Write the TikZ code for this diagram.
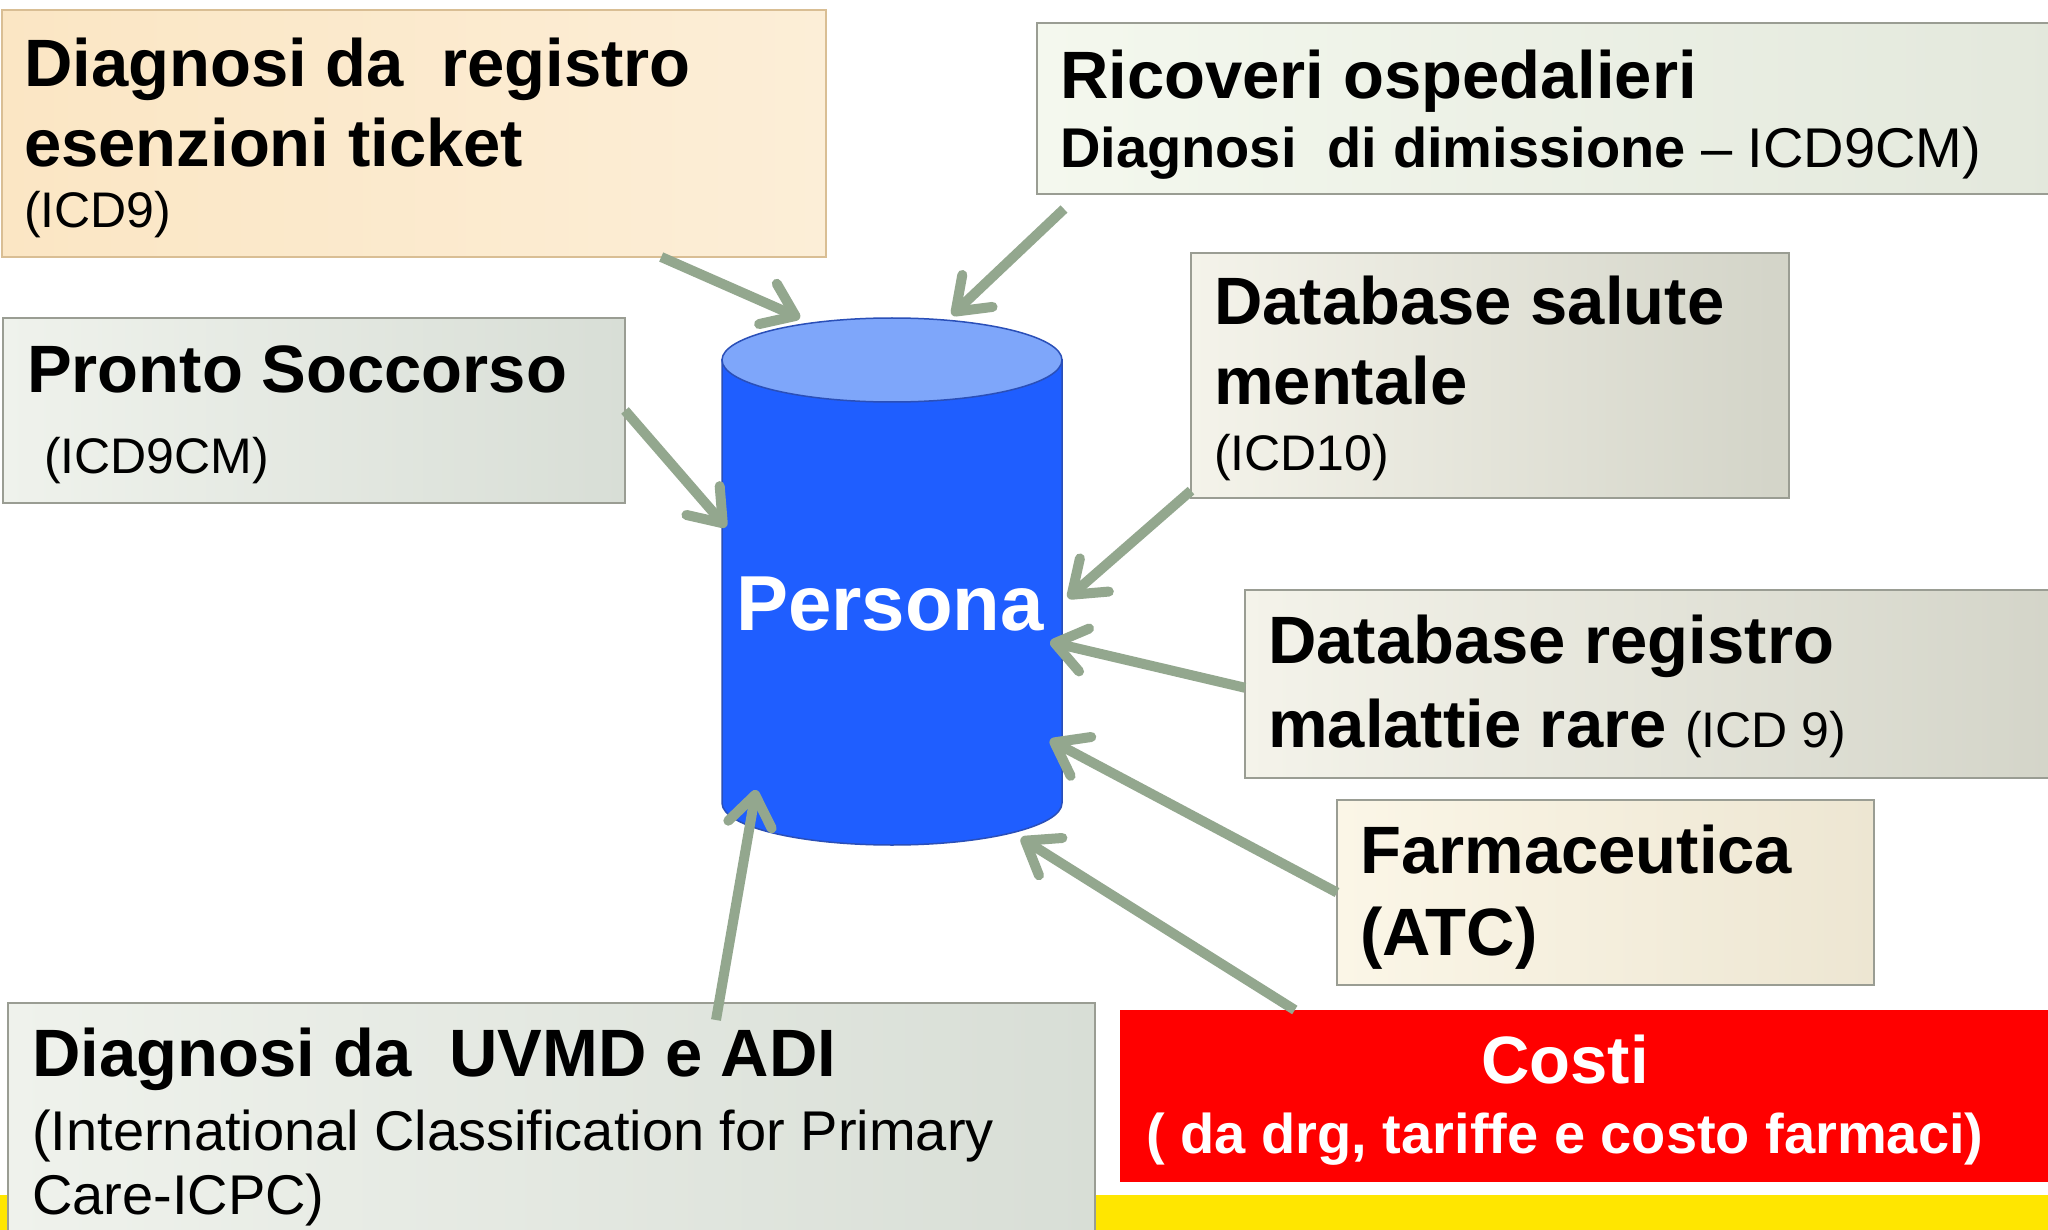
\documentclass[tikz,border=0pt]{standalone}
\usepackage{fontspec}
\setmainfont{Liberation Sans}
\usetikzlibrary{arrows.meta,calc}

\definecolor{stripyellow}{HTML}{FFE600}
\definecolor{panelline}{HTML}{9A9D93}
\definecolor{peachline}{HTML}{D9BE94}
\definecolor{peachA}{HTML}{FBE6C4}
\definecolor{peachB}{HTML}{FCEED7}
\definecolor{mintA}{HTML}{F4F8EE}
\definecolor{mintB}{HTML}{E3E8DC}
\definecolor{sageA}{HTML}{EFF2EC}
\definecolor{sageB}{HTML}{D8DED6}
\definecolor{greyA}{HTML}{F4F3EA}
\definecolor{greyB}{HTML}{D3D4C8}
\definecolor{creamA}{HTML}{FBF6E7}
\definecolor{creamB}{HTML}{EDE6D2}
\definecolor{costred}{HTML}{FF0000}
\definecolor{cylbody}{HTML}{1F5EFF}
\definecolor{cyltop}{HTML}{7EA6FA}
\definecolor{cyledge}{HTML}{2A4FB8}
\definecolor{sage}{HTML}{93A78E}

\begin{document}
\begin{tikzpicture}[x=1pt,y=-1pt,
  panel/.style={draw=panelline, line width=1.5pt, anchor=north west,
    inner sep=0pt, outer sep=0pt},
  ttl/.style={anchor=base west, inner sep=0pt,
    font=\fontsize{67}{80}\selectfont\bfseries},
  sub/.style={anchor=base west, inner sep=0pt,
    font=\fontsize{50}{60}\selectfont},
  midsub/.style={anchor=base west, inner sep=0pt,
    font=\fontsize{56}{66}\selectfont},
  feed/.style={draw=sage, line width=10pt,
    -{Straight Barb[length=30pt,width=44pt,round]}},
]
\useasboundingbox (0,0) rectangle (2048,1230);
\clip (0,0) rectangle (2048,1230);
\fill[white] (0,0) rectangle (2048,1230);
\fill[stripyellow] (0,1195) rectangle (2048,1230);

% source panels
\node[panel, draw=peachline, left color=peachA, right color=peachB,
  minimum width=824, minimum height=247] (b1) at (2,10) {};
\node[ttl] (t1a) at (24,87) {Diagnosi da\ \ registro};
\node[ttl] (t1b) at (24,167) {esenzioni ticket};
\node[sub] (t1c) at (24,228) {(ICD9)};

\node[panel, left color=mintA, right color=mintB,
  minimum width=1030, minimum height=171] (b2) at (1037,23) {};
\node[ttl] (t2a) at (1060,99) {Ricoveri ospedalieri};
\node[midsub] (t2b) at (1060,168) {{\bfseries Diagnosi\ \ di dimissione} – ICD9CM)};

\node[panel, left color=sageA, right color=sageB,
  minimum width=622, minimum height=185] (b3) at (3,318) {};
\node[ttl] (t3a) at (27,393) {Pronto Soccorso};
\node[sub] (t3b) at (44,473) {(ICD9CM)};

\node[panel, left color=greyA, right color=greyB,
  minimum width=598, minimum height=245] (b4) at (1191,253) {};
\node[ttl] (t4a) at (1214,325) {Database salute};
\node[ttl] (t4b) at (1214,405) {mentale};
\node[sub] (t4c) at (1214,470) {(ICD10)};

\node[panel, left color=greyA, right color=greyB,
  minimum width=830, minimum height=188] (b5) at (1245,590) {};
\node[ttl] (t5a) at (1268,663) {Database registro};
\node[ttl] (t5b) at (1268,747) {malattie rare {\fontsize{50}{60}\selectfont\mdseries (ICD 9)}};

\node[panel, left color=creamA, right color=creamB,
  minimum width=537, minimum height=185] (b6) at (1337,800) {};
\node[ttl] (t6a) at (1360,873) {Farmaceutica};
\node[ttl] (t6b) at (1360,955) {(ATC)};

\node[panel, draw=none, fill=costred,
  minimum width=950, minimum height=172] (b7) at (1120,1010) {};
\node[ttl, anchor=base, text=white] (t7a) at (1565,1083) {Costi};
\node[midsub, anchor=base, text=white, font=\fontsize{56}{66}\selectfont\bfseries]
  (t7b) at (1565,1153) {( da drg, tariffe e costo farmaci)};

\node[panel, left color=sageA, right color=sageB,
  minimum width=1087, minimum height=250] (b8) at (8,1003) {};
\node[ttl] (t8a) at (32,1076) {Diagnosi da\ \ UVMD e ADI};
\node[midsub] (t8b) at (32,1150) {(International Classification for Primary};
\node[midsub] (t8c) at (32,1214) {Care-ICPC)};

% central database cylinder
\path[fill=cylbody, draw=cyledge, line width=1.5pt]
  (722,360) -- (722,803) arc[start angle=180, end angle=0, x radius=170, y radius=42]
  -- (1062,360) -- cycle;
\path[fill=cyltop, draw=cyledge, line width=1.5pt]
  (892,360) ellipse[x radius=170, y radius=42];
\node[inner sep=0pt, minimum width=340, minimum height=527] (db) at (892,582) {};
\node[anchor=base, inner sep=0pt, text=white,
  font=\fontsize{78}{90}\selectfont\bfseries] (pname) at (890,630) {Persona};

% feeds into the database
\draw[feed] ($(b1.south west)!0.8!(b1.south east)$) -- ($(db.center)+(-92,-264)$);
\draw[feed] ($(b2.south west)+(27,15)$) -- ($(db.center)+(60,-267)$);
\draw[feed] (b3.east) -- ($(db.center)+(-166,-55)$);
\draw[feed] ($(b4.north west)!0.97!(b4.south west)$) -- ($(db.center)+(176,16)$);
\draw[feed] ($(b5.north west)!0.52!(b5.south west)$) -- ($(db.center)+(158,60)$);
\draw[feed] (b6.west) -- ($(db.center)+(158,158)$);
\draw[feed] ($(b7.north west)!0.184!(b7.north east)$) -- ($(db.center)+(129,256)$);
\draw[feed] ($(b8.north west)+(708,17)$) -- ($(db.center)+(-136,208)$);
\end{tikzpicture}
\end{document}
